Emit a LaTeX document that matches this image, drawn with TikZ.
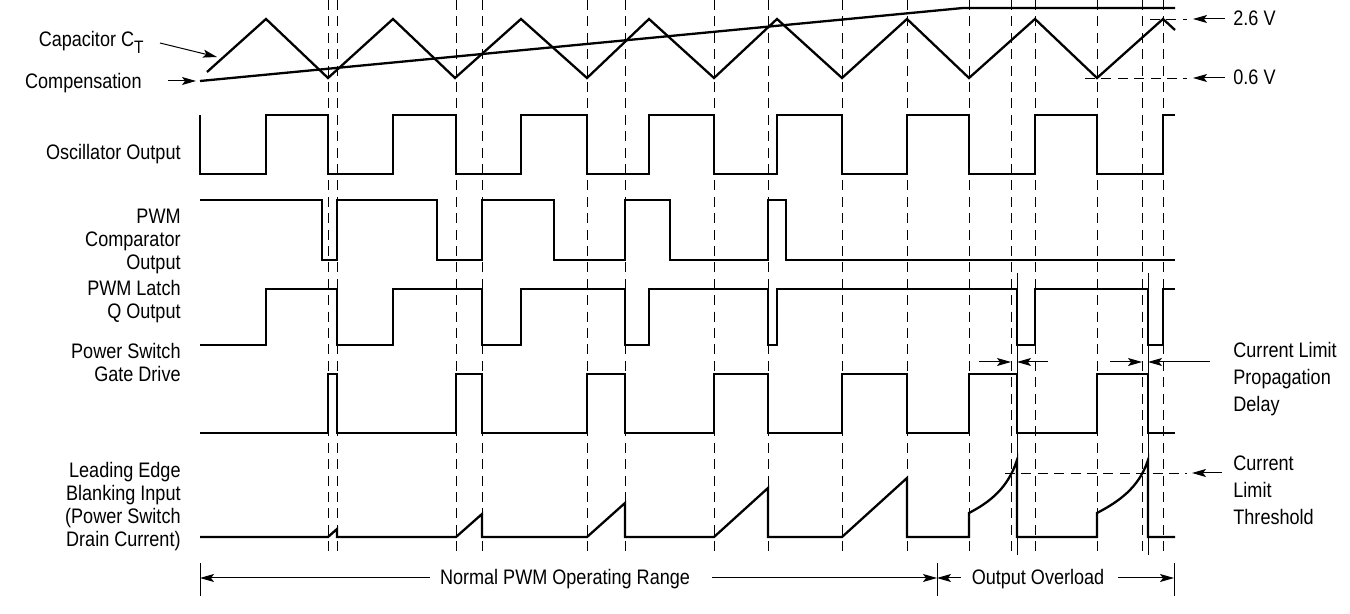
\documentclass[tikz,border=0pt]{standalone}
\usepackage{fontspec}
\setmainfont{Liberation Sans}[FakeStretch=0.86]
\usetikzlibrary{arrows.meta}

\tikzset{
  wave/.style={line width=1.15pt},
  guide/.style={line width=0.45pt, dash pattern=on 5pt off 3.2pt},
  tick/.style={line width=0.45pt},
  pointer/.style={line width=0.5pt, -{Stealth[length=7pt,width=4pt,inset=1.5pt]}},
  lbl/.style={font=\fontsize{10.5}{11.5}\selectfont, align=right, anchor=base east, inner sep=0pt},
  note/.style={font=\fontsize{10.5}{13.5}\selectfont, align=left, anchor=base west, inner sep=0pt},
}

\begin{document}
\begin{tikzpicture}[x=0.5pt,y=-0.5pt]
  \useasboundingbox (0,0) rectangle (1350,614);

  % timing marks
  \foreach \t in {328,337,456,482,587,625,714,768,842,907,969,1011,1035,1097,1142,1163}
    \draw[guide] (\t,0) -- (\t,553);
  \foreach \t in {1017,1148}
    \draw[tick] (\t,273) -- (\t,555);

  % ramp and error voltage
  \draw[wave] (207,72) -- (266,19) -- (328,78) -- (393,19) -- (455,78) -- (521,19)
    -- (587,78) -- (649,19) -- (714,78) -- (777,19) -- (842,78) -- (907,19)
    -- (969,78) -- (1035,19) -- (1097,78) -- (1163,19) -- (1175,30);
  \draw[wave] (200,81) -- (963,8) -- (1175,8);

  % logic levels
  \draw[wave] (200,115) |- (266,174) |- (328,115) |- (393,174) |- (456,115) |- (521,174)
    |- (587,115) |- (649,174) |- (714,115) |- (777,174) |- (842,115) |- (907,174)
    |- (969,115) |- (1035,174) |- (1097,115) |- (1163,174) |- (1175,115);
  \draw[wave] (200,200) -| (322,260) -| (337,200) -| (437,260) -| (482,200) -| (554,260)
    -| (625,200) -| (670,260) -| (768,200) -| (786,260) -- (1175,260);
  \draw[wave] (200,345) -| (266,289) -| (337,345) -| (393,289) -| (482,345) -| (521,289)
    -| (625,345) -| (649,289) -| (768,345) -| (777,289) -| (1017,345) -| (1035,289)
    -| (1148,345) -| (1163,289) -- (1175,289);
  \draw[wave] (200,433) -| (328,374) -| (337,433) -| (456,374) -| (482,433) -| (587,374)
    -| (625,433) -| (714,374) -| (768,433) -| (842,374) -| (907,433) -| (969,374)
    -| (1017,433) -| (1097,374) -| (1148,433) -- (1175,433);

  % switch current
  \draw[wave] (200,537) -- (328,537) -- (337,529) -- (337,537) -- (456,537) -- (482,514)
    -- (482,537) -- (587,537) -- (625,503) -- (625,537) -- (714,537) -- (768,488)
    -- (768,537) -- (842,537) -- (907,478) -- (907,537) -- (969,537) -- (969,513)
    .. controls (990,502) and (1008,488) .. (1017,460) -- (1017,537) -- (1097,537)
    -- (1097,513) .. controls (1118,502) and (1139,488) .. (1148,460) -- (1148,537)
    -- (1175,537);

  % signal names
  \node[lbl] (capT) at (144,47) {Capacitor C\raisebox{-0.3em}{\fontsize{9}{9}\selectfont T}};
  \node[lbl] (comp) at (142,89) {Compensation};
  \node[lbl] (osc) at (181,160) {Oscillator Output};
  \node[lbl] (pwmc) at (181,270) {PWM\\Comparator\\Output};
  \node[lbl] (latch) at (181,319) {PWM Latch\\Q Output};
  \node[lbl] (gate) at (181,382) {Power Switch\\Gate Drive};
  \node[lbl] (leb) at (181,546) {Leading Edge\\Blanking Input\\(Power Switch\\Drain Current)};

  \coordinate (capTa) at (160,43);
  \coordinate (capTb) at (217,57);
  \coordinate (compa) at (168,81);
  \coordinate (compb) at (196,81);
  \draw[pointer] (capTa) -- (capTb);
  \draw[pointer] (compa) -- (compb);

  % levels on the right
  \node[note] (hi) at (1233,26) {2.6 V};
  \node[note] (lo) at (1233,85) {0.6 V};
  \node[note] (delay) at (1233,412) {Current Limit\\Propagation\\Delay};
  \node[note] (thr) at (1233,524) {Current\\Limit\\Threshold};

  \draw[guide] (1150,19) -- (1187,19);
  \draw[guide] (1085,78) -- (1187,78);
  \draw[guide] (1005,473) -- (1187,473);
  \coordinate (hia) at (1225,19);
  \coordinate (hib) at (1193,19);
  \coordinate (loa) at (1225,78);
  \coordinate (lob) at (1193,78);
  \coordinate (thra) at (1222,473);
  \coordinate (thrb) at (1192,473);
  \draw[pointer] (hia) -- (hib);
  \draw[pointer] (loa) -- (lob);
  \draw[pointer] (thra) -- (thrb);

  \coordinate (d1a) at (979,362);
  \coordinate (d1b) at (1011,362);
  \coordinate (d2a) at (1048,362);
  \coordinate (d2b) at (1017,362);
  \coordinate (d3a) at (1110,362);
  \coordinate (d3b) at (1142,362);
  \coordinate (d4a) at (1210,362);
  \coordinate (d4b) at (1148,362);
  \draw[pointer] (d1a) -- (d1b);
  \draw[pointer] (d2a) -- (d2b);
  \draw[pointer] (d3a) -- (d3b);
  \draw[pointer] (d4a) -- (d4b);

  % operating ranges
  \draw[tick] (200,563) -- (200,596);
  \draw[tick] (937,563) -- (937,596);
  \draw[tick] (1174,563) -- (1174,596);
  \coordinate (r0) at (200,578);
  \coordinate (r1) at (937,578);
  \coordinate (r2) at (1174,578);
  \coordinate (n0) at (430,578);
  \coordinate (n1) at (712,578);
  \coordinate (o0) at (961,578);
  \coordinate (o1) at (1118,578);
  \node[lbl, anchor=base] (normal) at (565,585) {Normal PWM Operating Range};
  \node[lbl, anchor=base] (ovl) at (1038,585) {Output Overload};
  \draw[pointer] (n0) -- (r0);
  \draw[pointer] (n1) -- (r1);
  \draw[pointer] (o0) -- (r1);
  \draw[pointer] (o1) -- (r2);
\end{tikzpicture}
\end{document}
